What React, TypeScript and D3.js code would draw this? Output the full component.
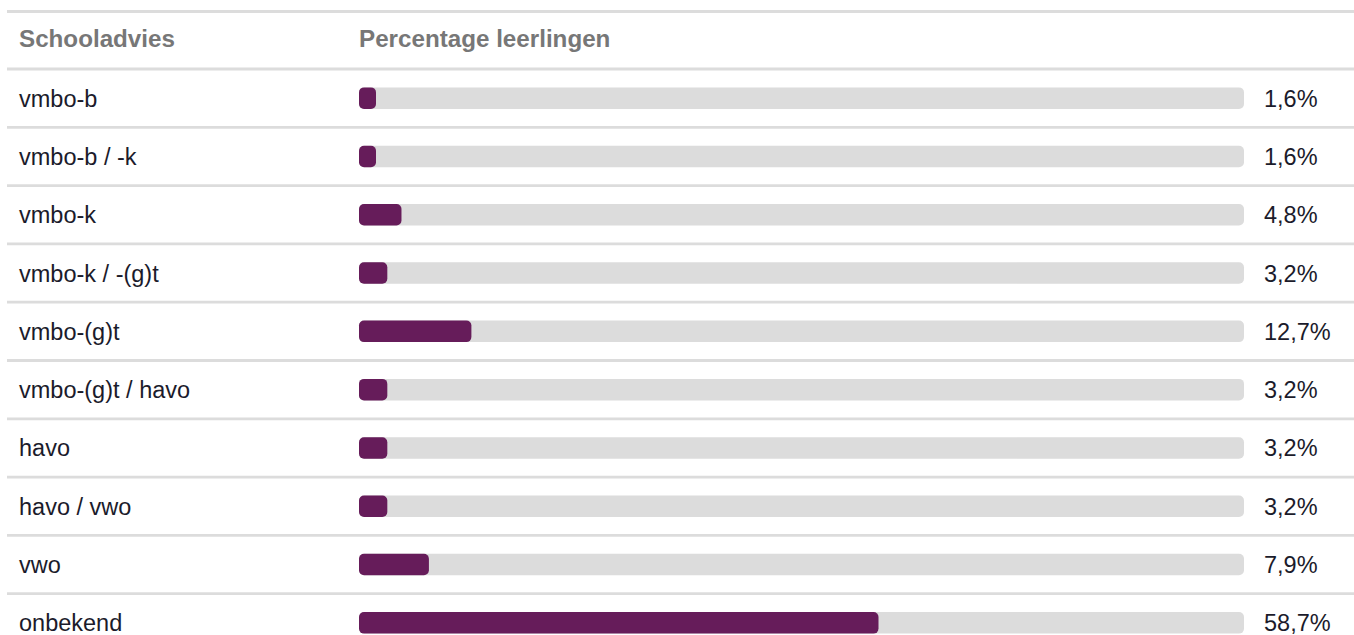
import React from "react";
import * as d3 from "d3";

const categories = [
  "vmbo-b",
  "vmbo-b / -k",
  "vmbo-k",
  "vmbo-k / -(g)t",
  "vmbo-(g)t",
  "vmbo-(g)t / havo",
  "havo",
  "havo / vwo",
  "vwo",
  "onbekend",
];
const values = [1.6, 1.6, 4.8, 3.2, 12.7, 3.2, 3.2, 3.2, 7.9, 58.7];
const headers = ["Schooladvies", "Percentage leerlingen"];

const W = 1354;
const H = 635;
const FONT = "'Liberation Sans', Arial, Helvetica, sans-serif";

export default function App() {
  const headerTop = 11.5;
  const headerH = 57.5;
  const rowH = 58.3;
  const y = d3
    .scaleBand<string>()
    .domain(categories)
    .range([headerTop + headerH, headerTop + headerH + rowH * categories.length])
    .paddingInner(0)
    .paddingOuter(0);
  const x = d3.scaleLinear().domain([0, 100]).range([359, 359 + 885]);
  const trackH = 21.5;
  const fmt = (v: number) => v.toFixed(1).replace(".", ",") + "%";
  const lineColor = "#dcdcdc";

  return (
    <svg
      width={W}
      height={H}
      style={{ position: "absolute", left: 0, top: 0, background: "#fff" }}
      fontFamily={FONT}
    >
      <line x1={7} x2={W} y1={headerTop} y2={headerTop} stroke={lineColor} strokeWidth={2.8} />
      <text x={19} y={headerTop + headerH / 2 - 1.5} dy="0.36em" fontSize={24.2} fontWeight="bold" fill="#777">
        {headers[0]}
      </text>
      <text x={359} y={headerTop + headerH / 2 - 1.5} dy="0.36em" fontSize={24.2} fontWeight="bold" fill="#777">
        {headers[1]}
      </text>
      {categories.map((c, i) => {
        const top = y(c)!;
        const cy = top + y.bandwidth() / 2;
        const v = values[i];
        const w = Math.max(x(v) - x(0), 17);
        return (
          <g key={c}>
            <line x1={7} x2={W} y1={top} y2={top} stroke={lineColor} strokeWidth={2.8} />
            <text x={19} y={cy} dy="0.36em" fontSize={23.5} fill="#1b1b2b">
              {c}
            </text>
            <rect
              x={x(0)}
              y={cy - trackH / 2}
              width={x(100) - x(0)}
              height={trackH}
              rx={5}
              fill="#dcdcdc"
            />
            <rect
              x={x(0)}
              y={cy - trackH / 2}
              width={w}
              height={trackH}
              rx={5}
              fill="#661c5a"
            />
            <text x={1264} y={cy} dy="0.36em" fontSize={23.5} fill="#1b1b2b">
              {fmt(v)}
            </text>
          </g>
        );
      })}
    </svg>
  );
}
